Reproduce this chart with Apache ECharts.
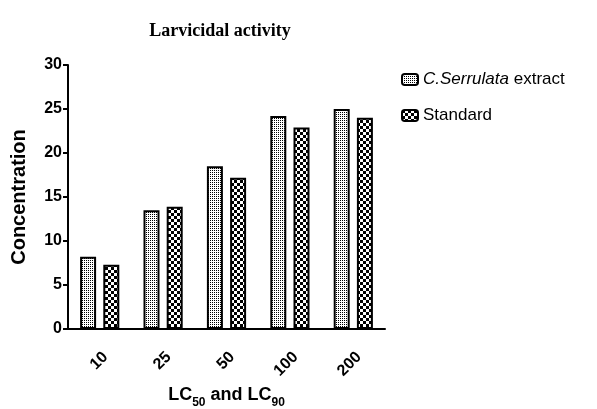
<!DOCTYPE html>
<html>
<head>
<meta charset="utf-8">
<script src="https://cdn.jsdelivr.net/npm/echarts@6/dist/echarts.min.js"></script>
<style>
  html, body { margin: 0; padding: 0; background: #fff; }
  #chart { width: 597px; height: 409px; }
</style>
</head>
<body>
<div id="chart"></div>
<script>
// categories and values
const categories = ['10', '25', '50', '100', '200'];
const extractValues = [8.2, 13.5, 18.5, 24.2, 25.0];
const standardValues = [7.3, 13.9, 17.2, 22.9, 24.0];
const yTicks = [0, 5, 10, 15, 20, 25, 30];

// small canvas tiles used as bar fills
function makePattern(size, draw) {
  const c = document.createElement('canvas');
  c.width = size; c.height = size;
  const ctx = c.getContext('2d');
  ctx.fillStyle = '#fff';
  ctx.fillRect(0, 0, size, size);
  ctx.fillStyle = '#000';
  draw(ctx);
  return c;
}
const dotTile = makePattern(2, ctx => { ctx.fillRect(0, 0, 1, 1); });
const checkTile = makePattern(6, ctx => {
  ctx.fillRect(0, 0, 3, 3);
  ctx.fillRect(3, 3, 3, 3);
});

const sans = 'Liberation Sans';

const chart = echarts.init(document.getElementById('chart'));
chart.setOption({
  animation: false,
  title: {
    text: 'Larvicidal activity',
    left: 215, top: 17, textAlign: 'center',
    textStyle: { fontFamily: 'Liberation Serif', fontWeight: 'bold', fontSize: 18, color: '#000' }
  },
  legend: {
    orient: 'vertical', left: 396, top: 66,
    itemWidth: 16, itemHeight: 11, itemGap: 19,
    formatter: name => name === 'C.Serrulata extract' ? '{i|C.Serrulata} extract' : name,
    textStyle: {
      fontFamily: sans, fontSize: 17, color: '#000',
      rich: { i: { fontStyle: 'italic', fontFamily: sans, fontSize: 17, color: '#000' } }
    }
  },
  grid: { left: 68, right: 212, top: 65, bottom: 80, outerBoundsMode: 'none' },
  xAxis: {
    type: 'category',
    data: categories,
    axisLine: { lineStyle: { color: '#000', width: 2 } },
    axisTick: { alignWithLabel: true, length: 6, lineStyle: { color: '#000', width: 2 } },
    axisLabel: {
      rotate: 45, margin: 20, verticalAlign: 'top', color: '#000',
      fontFamily: sans, fontWeight: 'bold', fontSize: 16
    },
    name: '{a|LC}{s|50}{a| and LC}{s|90}',
    nameLocation: 'middle', nameGap: 57,
    nameTextStyle: {
      rich: {
        a: { fontFamily: sans, fontWeight: 'bold', fontSize: 18, color: '#000', verticalAlign: 'bottom' },
        s: { fontFamily: sans, fontWeight: 'bold', fontSize: 12, color: '#000', verticalAlign: 'bottom', padding: [0, 0, -4, 0] }
      }
    }
  },
  yAxis: {
    type: 'value', min: 0, max: 30, interval: 5,
    axisLine: { show: true, lineStyle: { color: '#000', width: 2 } },
    axisTick: { show: true, length: 5, lineStyle: { color: '#000', width: 2 } },
    splitLine: { show: false },
    axisLabel: {
      margin: 6, color: '#000',
      fontFamily: sans, fontWeight: 'bold', fontSize: 16,
      formatter: v => yTicks.includes(v) ? String(v) : ''
    },
    name: 'Concentration',
    nameLocation: 'middle', nameGap: 39,
    nameTextStyle: { fontFamily: sans, fontWeight: 'bold', fontSize: 20, color: '#000' }
  },
  series: [
    {
      name: 'C.Serrulata extract', type: 'bar', data: extractValues,
      barWidth: 16, barGap: '45%',
      itemStyle: { color: { image: dotTile, repeat: 'repeat' }, borderColor: '#000', borderWidth: 2 }
    },
    {
      name: 'Standard', type: 'bar', data: standardValues,
      barWidth: 16,
      itemStyle: { color: { image: checkTile, repeat: 'repeat' }, borderColor: '#000', borderWidth: 2 }
    }
  ]
});
</script>
</body>
</html>
